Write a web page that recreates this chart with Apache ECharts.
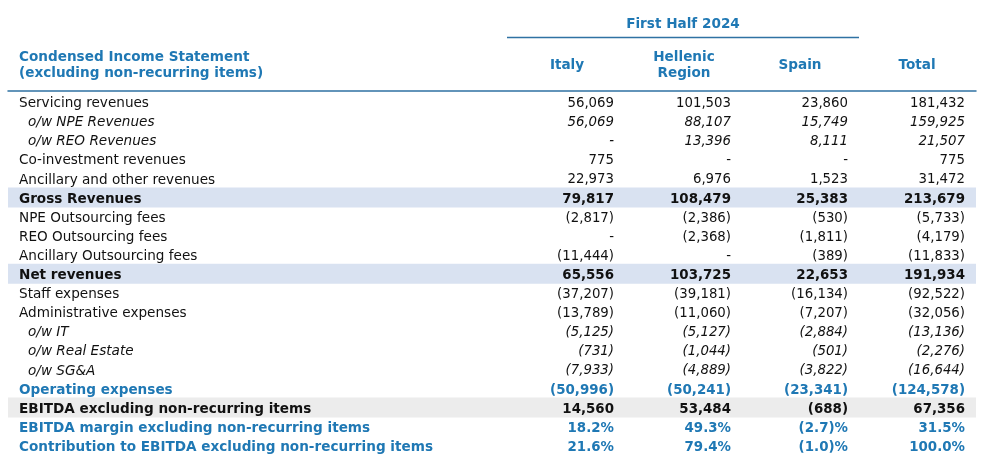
<!DOCTYPE html>
<html>
<head>
<meta charset="utf-8">
<script src="https://cdn.jsdelivr.net/npm/echarts@6/dist/echarts.min.js"></script>
<style>html,body{margin:0;padding:0;background:#fff}#c{width:987px;height:473px}</style>
</head>
<body>
<div id="c"></div>
<script>
// ---- data ----
var periodTitle = 'First Half 2024';
var tableTitle = ['Condensed Income Statement', '(excluding non-recurring items)'];
var columns = ['Italy', 'Hellenic\nRegion', 'Spain', 'Total'];
var rowLabels = [
  'Servicing revenues',
  'o/w NPE Revenues',
  'o/w REO Revenues',
  'Co-investment revenues',
  'Ancillary and other revenues',
  'Gross Revenues',
  'NPE Outsourcing fees',
  'REO Outsourcing fees',
  'Ancillary Outsourcing fees',
  'Net revenues',
  'Staff expenses',
  'Administrative expenses',
  'o/w IT',
  'o/w Real Estate',
  'o/w SG&A',
  'Operating expenses',
  'EBITDA excluding non-recurring items',
  'EBITDA margin excluding non-recurring items',
  'Contribution to EBITDA excluding non-recurring items'
];
var italy    = [56069, 56069, null, 775, 22973, 79817, -2817, null, -11444, 65556, -37207, -13789, -5125, -731, -7933, -50996, 14560, 18.2, 21.6];
var hellenic = [101503, 88107, 13396, null, 6976, 108479, -2386, -2368, null, 103725, -39181, -11060, -5127, -1044, -4889, -50241, 53484, 49.3, 79.4];
var spain    = [23860, 15749, 8111, null, 1523, 25383, -530, -1811, -389, 22653, -16134, -7207, -2884, -501, -3822, -23341, -688, -2.7, -1.0];
var total    = [181432, 159925, 21507, 775, 31472, 213679, -5733, -4179, -11833, 191934, -92522, -32056, -13136, -2276, -16644, -124578, 67356, 31.5, 100.0];
var percentRows = [17, 18];

// ---- styling (kept separate from data) ----
var BLUE = '#1f78b4';
var LINE = '#2f72a3';
var FONT = '"DejaVu Sans", Verdana, sans-serif';
var FS_LABEL = 13.6;
var FS_NUM = 13.3;
var FS_NUM_B = 13.4;
var rowKind = ['n','i','i','n','n','b','n','n','n','b','n','n','i','i','i','bl','b','bl','bl'];
var bandRows = {5: '#d9e2f1', 9: '#d9e2f1', 16: '#ececec'};

function fmt(v, pct) {
  if (v === null || v === undefined) return '-';
  var a = Math.abs(v);
  var s = pct ? a.toFixed(1) : a.toLocaleString('en-US');
  if (v < 0) s = '(' + s + ')';
  if (pct) s += '%';
  return s;
}

var series = [italy, hellenic, spain, total];
var cells = [];
series.forEach(function (arr, ci) {
  arr.forEach(function (v, ri) {
    cells.push([ci + 1, ri, v]);
  });
});
var bands = Object.keys(bandRows).map(function (k) { return [0, +k]; });

var chart = echarts.init(document.getElementById('c'), null, {renderer: 'canvas'});

var rich = {
  n: {fontFamily: FONT, fontSize: FS_LABEL, color: '#111'},
  i: {fontFamily: FONT, fontSize: FS_LABEL, color: '#111', fontStyle: 'italic', padding: [0, 0, 0, 9]},
  b: {fontFamily: FONT, fontSize: FS_LABEL, color: '#111', fontWeight: 'bold'},
  bl: {fontFamily: FONT, fontSize: FS_LABEL, color: BLUE, fontWeight: 'bold'}
};

// column right edges at 1..4, left edge of grid = 8, right = 976
var unit = 117;
var xMin = 1 - (614 - 8) / unit;
var xMax = 4 + (976 - 965) / unit;

var HFONT = 'bold ' + FS_LABEL + 'px ' + FONT;
var graphics = [
  {type: 'text', style: {text: periodTitle, x: 683, y: 24, align: 'center', verticalAlign: 'middle', fill: BLUE, font: HFONT}},
  {type: 'line', shape: {x1: 507, y1: 37.5, x2: 859, y2: 37.5}, style: {stroke: LINE, lineWidth: 1.5}},
  {type: 'text', style: {text: tableTitle.join('\n'), x: 19, y: 65.5, align: 'left', verticalAlign: 'middle', lineHeight: 16, fill: BLUE, font: HFONT}}
];
var headerCenters = [567, 684, 800, 917];
columns.forEach(function (c, i) {
  graphics.push({type: 'text', style: {text: c, x: headerCenters[i], y: 65.5, align: 'center', verticalAlign: 'middle', lineHeight: 16, fill: BLUE, font: HFONT}});
});

chart.setOption({
  animation: false,
  backgroundColor: '#fff',
  grid: {left: 8, right: 11, top: 94, bottom: 16, containLabel: false},
  xAxis: {
    type: 'value', position: 'top', min: xMin, max: xMax, offset: 3.3,
    axisLine: {show: true, onZero: false, lineStyle: {color: LINE, width: 1.5}},
    axisTick: {show: false}, axisLabel: {show: false}, splitLine: {show: false}
  },
  yAxis: {
    type: 'category', inverse: true, data: rowLabels,
    axisLine: {show: false}, axisTick: {show: false}, splitLine: {show: false},
    axisLabel: {
      interval: 0, align: 'left', margin: -11, rich: rich,
      formatter: function (v, idx) { return '{' + rowKind[idx] + '|' + v + '}'; }
    },
    z: 10
  },
  series: [
    {
      type: 'custom', data: bands, z: 1, silent: true,
      renderItem: function (params, api) {
        var ri = api.value(1);
        var p = api.coord([xMin, ri]);
        var cs = params.coordSys;
        return {type: 'rect', shape: {x: cs.x, y: p[1] - 11.7, width: cs.width, height: 20}, style: {fill: bandRows[ri]}};
      }
    },
    {
      type: 'custom', data: cells, z: 5, silent: true,
      renderItem: function (params, api) {
        var ci = api.value(0), ri = api.value(1);
        var raw = cells[params.dataIndex][2];
        var p = api.coord([ci, ri]);
        var kind = rowKind[ri];
        var pct = percentRows.indexOf(ri) >= 0;
        var bold = (kind === 'b' || kind === 'bl');
        return {
          type: 'text',
          style: {
            text: fmt(raw, pct), x: p[0], y: p[1], align: 'right', verticalAlign: 'middle',
            fill: kind === 'bl' ? BLUE : '#111',
            fontFamily: FONT, fontSize: bold ? FS_NUM_B : FS_NUM,
            fontWeight: bold ? 'bold' : 'normal',
            fontStyle: kind === 'i' ? 'italic' : 'normal'
          }
        };
      }
    }
  ],
  graphic: graphics
});
</script>
</body>
</html>
